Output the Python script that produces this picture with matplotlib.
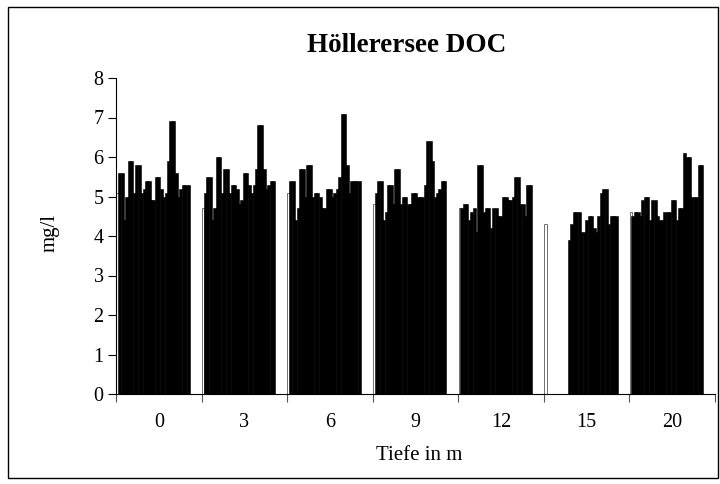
import numpy as np
import matplotlib
matplotlib.use('Agg')
import matplotlib.pyplot as plt
from matplotlib.patches import Rectangle

plt.rcParams['font.family'] = ['Liberation Serif', 'DejaVu Serif']

# DOC (mg/l) per depth, one value per sampling date (first date = white bar)
depths = ['0', '3', '6', '9', '12', '15', '20']

doc_0m = [5.1, 5.6, 5.6, 4.4, 5.0, 5.9, 5.9, 5.1, 5.8, 5.8, 5.1, 5.2, 5.4, 5.4, 4.9,
          4.9, 5.5, 5.5, 5.2, 5.0, 5.1, 5.9, 6.9, 6.9, 5.6, 5.0, 5.2, 5.3, 5.3, 5.3]
doc_3m = [4.7, 5.1, 5.5, 5.5, 4.4, 4.7, 6.0, 6.0, 5.1, 5.7, 5.7, 5.1, 5.3, 5.3, 5.2,
          4.8, 4.9, 5.6, 5.6, 5.3, 5.1, 5.3, 5.7, 6.8, 6.8, 5.7, 5.2, 5.3, 5.4, 5.4]
doc_6m = [5.1, 5.4, 5.4, 4.4, 4.7, 5.7, 5.7, 5.0, 5.8, 5.8, 5.0, 5.1, 5.1, 5.0, 4.7,
          4.7, 5.2, 5.2, 5.0, 5.1, 5.2, 5.5, 7.1, 7.1, 5.8, 5.1, 5.4, 5.4, 5.4, 5.4]
doc_9m = [4.8, 5.1, 5.4, 5.4, 4.4, 4.6, 5.3, 5.3, 4.8, 5.7, 5.7, 4.8, 5.0, 5.0, 4.8,
          4.8, 5.1, 5.1, 5.0, 5.0, 5.0, 5.3, 6.4, 6.4, 5.9, 5.0, 5.1, 5.2, 5.4, 5.4]
doc_12m = [4.7, 4.7, 4.8, 4.8, 4.4, 4.6, 4.7, 4.1, 5.8, 5.8, 4.6, 4.7, 4.7, 4.2, 4.7,
           4.7, 4.5, 4.5, 5.0, 5.0, 4.9, 4.9, 5.0, 5.5, 5.5, 4.8, 4.8, 4.5, 5.3, 5.3]
doc_15m = [4.3, np.nan, np.nan, np.nan, np.nan, np.nan, np.nan, np.nan, np.nan, np.nan,
           3.9, 4.3, 4.6, 4.6, 4.6, 4.1, 4.1, 4.4, 4.5, 4.5, 4.2, 4.1, 4.5, 5.1, 5.2,
           5.2, 4.3, 4.5, 4.5, 4.5]
doc_20m = [4.6, 4.5, 4.6, 4.6, 4.5, 4.9, 5.0, 5.0, 4.4, 4.9, 4.9, 4.5, 4.4, 4.4, 4.6,
           4.6, 4.6, 4.9, 4.9, 4.4, 4.7, 4.7, 6.1, 6.0, 6.0, 5.0, 5.0, 5.0, 5.8, 5.8]

data = np.array([doc_0m, doc_3m, doc_6m, doc_9m, doc_12m, doc_15m, doc_20m])
n_groups, n_series = data.shape

fig = plt.figure(figsize=(7.2, 4.84), dpi=100)
ax = fig.add_axes([116 / 720, 1 - 394 / 484, (715 - 116) / 720, (394 - 78) / 484])

w = 0.0286
x = np.arange(n_groups)
for i in range(n_series):
    pos = x - 0.5 + 0.004 + (i + 0.5) * w
    if i == 0:
        ax.bar(pos, data[:, i], width=w, color='white', edgecolor='#707070', linewidth=0.7, zorder=2)
    else:
        # black bars drawn a bit wider so neighbours merge like in the original
        ax.bar(pos - 0.15 * w, data[:, i], width=w * 1.3, color='black', edgecolor='black',
               linewidth=0.4, zorder=3)

ax.set_xlim(-0.5, n_groups - 0.5)
ax.set_ylim(0, 8)
ax.set_yticks(range(0, 9))
ax.tick_params(axis='y', direction='out', length=6, width=0.8, pad=3, labelsize=14.5)

# category boundaries get the tick marks, labels sit in the middle
ax.set_xticks(np.arange(-0.5, n_groups, 1.0))
ax.set_xticklabels([])
ax.tick_params(axis='x', which='major', direction='out', length=6, width=0.8, color='#555555')
ax.set_xticks(x, minor=True)
ax.set_xticklabels(depths, minor=True)
ax.tick_params(axis='x', which='minor', length=0, pad=14, labelsize=14.5)

ax.spines['top'].set_visible(False)
ax.spines['right'].set_visible(False)
ax.spines['left'].set_linewidth(0.8)
ax.spines['bottom'].set_linewidth(0.8)

fig.text(0.565, 1 - 45 / 484, 'Höllerersee DOC', ha='center', va='center',
         fontsize=19.5, fontweight='bold')
fig.text(50 / 720, 1 - 233 / 484, 'mg/l', ha='center', va='center', rotation=90, fontsize=15)
fig.text(419 / 720, 1 - 455 / 484, 'Tiefe in m', ha='center', va='center', fontsize=15)

fig.patches.append(Rectangle((8 / 720, 1 - 478 / 484), 710 / 720, 471 / 484,
                             transform=fig.transFigure, fill=False,
                             edgecolor='black', linewidth=1.0))

fig.savefig('out.png', dpi=100)
